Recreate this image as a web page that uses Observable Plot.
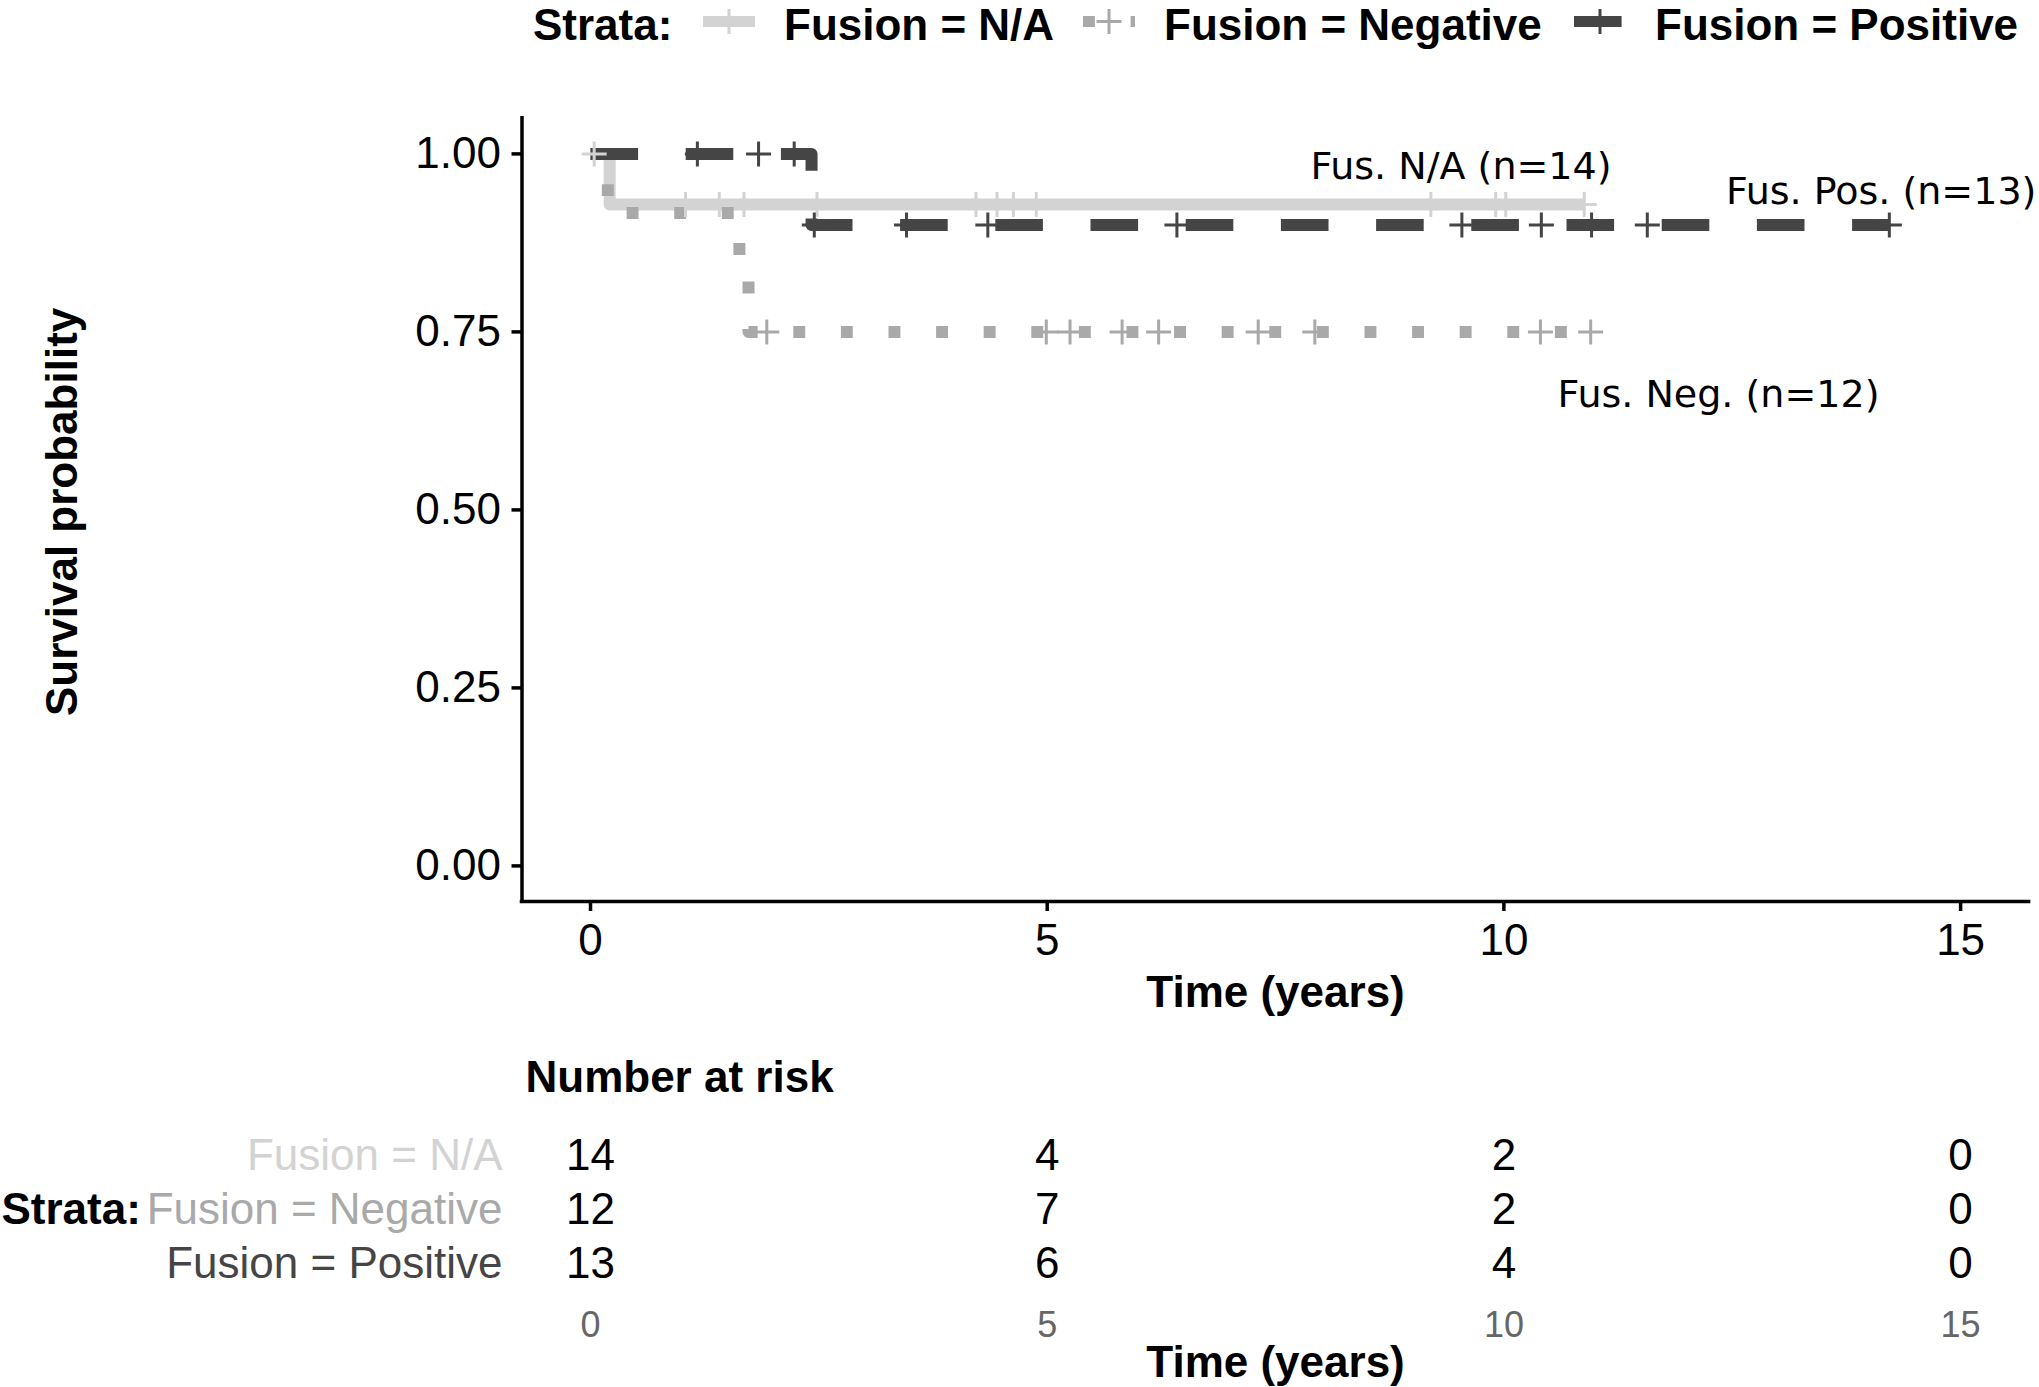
<!DOCTYPE html>
<html><head><meta charset="utf-8">
<script src="https://cdn.jsdelivr.net/npm/d3@7"></script>
<script src="https://cdn.jsdelivr.net/npm/@observablehq/plot@0.6"></script>
<style>
html,body{margin:0;padding:0;background:#fff;overflow:hidden;}
#chart svg{display:block;}
</style></head><body><div id="chart"></div>
<script>
// ---------- data ----------
const strata = ["Fusion = N/A", "Fusion = Negative", "Fusion = Positive"];
const strataColors = ["#d3d3d3", "#a9a9a9", "#454545"];
const strataDash = [null, "11.9,35.7", "47.6,47.6"];

const naStepTime = [0, 0.21, 10.88];
const naStepSurv = [1, 0.929, 0.929];
const naCensor = [0.04, 1.04, 1.41, 1.68, 2.48, 4.22, 4.45, 4.63, 4.88, 9.20, 9.91, 10.02, 10.88];

const negStepTime = [0, 0.19, 1.63, 1.73, 10.95];
const negStepSurv = [1, 0.917, 0.833, 0.75, 0.75];
const negCensor = [1.93, 4.99, 5.25, 5.82, 6.22, 7.31, 7.93, 10.40, 10.95];

const posStepTime = [0, 2.42, 14.22];
const posStepSurv = [1, 0.9, 0.9];
const posCensor = [1.17, 1.84, 2.23, 2.45, 3.46, 4.35, 6.42, 9.54, 10.41, 10.96, 11.57, 14.22];

const annoText = ["Fus. N/A (n=14)", "Fus. Neg. (n=12)", "Fus. Pos. (n=13)"];
const annoX = [9.53, 12.35, 14.13];
const annoY = [0.982, 0.661, 0.947];

const riskTimes = [0, 5, 10, 15];
const riskNA = [14, 4, 2, 0];
const riskNeg = [12, 7, 2, 0];
const riskPos = [13, 6, 4, 0];

const xTicks = [0, 5, 10, 15];
const yTicks = [0, 0.25, 0.5, 0.75, 1];
const xDomain = [-0.75, 15.75];
const yDomain = [-0.05, 1.05];

// ---------- helpers ----------
const FONT = "'Liberation Sans', Arial, Helvetica, sans-serif";
const steps = [
  {t: naStepTime, s: naStepSurv, c: naCensor},
  {t: negStepTime, s: negStepSurv, c: negCensor},
  {t: posStepTime, s: posStepSurv, c: posCensor}
];
function survAt(st, x) {
  let v = st.s[0];
  for (let i = 0; i < st.t.length; i++) if (st.t[i] <= x) v = st.s[i];
  return v;
}
const plusSymbol = {
  draw(ctx, size) {
    const h = Math.sqrt(size / Math.PI);
    ctx.moveTo(-h, 0); ctx.lineTo(h, 0);
    ctx.moveTo(0, -h); ctx.lineTo(0, h);
  }
};

const root = document.getElementById("chart");

// ---------- legend ----------
const LEG_H = 52;
const leg = d3.select(root).append("svg").attr("width", 2039).attr("height", LEG_H)
  .style("display", "block").style("font-family", FONT);
const LY = 21.5, TB = 40;
leg.append("text").attr("x", 533).attr("y", TB).attr("font-size", 44).attr("font-weight", "bold").text("Strata:");
const keyX = [703, 1083, 1574];
const labX = [784, 1164, 1655];
strata.forEach((s, i) => {
  const g = leg.append("g");
  g.append("line").attr("x1", keyX[i]).attr("x2", keyX[i] + 52).attr("y1", LY).attr("y2", LY)
    .attr("stroke", strataColors[i]).attr("stroke-width", 11)
    .attr("stroke-dasharray", strataDash[i]);
  const cx = keyX[i] + 26;
  g.append("path").attr("d", `M${cx - 12.5},${LY}H${cx + 12.5}M${cx},${LY - 12.5}V${LY + 12.5}`)
    .attr("stroke", strataColors[i]).attr("stroke-width", 3).attr("fill", "none");
  leg.append("text").attr("x", labX[i]).attr("y", TB).attr("font-size", 44).attr("font-weight", "bold").text(s);
});

// ---------- main plot ----------
const lineMarks = steps.map((st, i) => Plot.line(st.t.map((t, j) => ({t, s: st.s[j]})), {
  x: "t", y: "s", curve: "step-after", stroke: strataColors[i], strokeWidth: 12,
  strokeLinejoin: "round", strokeLinecap: "butt",
  strokeDasharray: strataDash[i] || undefined
}));
const censorMarks = steps.map((st, i) => Plot.dot(st.c.map(t => ({t, s: survAt(st, t)})), {
  x: "t", y: "s", symbol: plusSymbol, r: 12.5, stroke: strataColors[i], fill: "none", strokeWidth: 3
}));

const MAIN_H = 1387 - LEG_H - 347;
const main = Plot.plot({
  width: 2039, height: MAIN_H,
  marginTop: 117.8 - LEG_H, marginBottom: LEG_H + MAIN_H - 901, marginLeft: 521.5, marginRight: 10.4,
  x: {domain: xDomain},
  y: {domain: yDomain},
  style: {fontFamily: FONT, fontSize: "44px", color: "#000", background: "#fff", overflow: "visible"},
  marks: [
    ...lineMarks,
    ...censorMarks,
    Plot.text(annoText, {x: (d, i) => annoX[i], y: (d, i) => annoY[i], text: d => d,
      fontFamily: "'DejaVu Sans', sans-serif", fontSize: 38, fill: "#000"}),
    Plot.axisX({ticks: xTicks, tickFormat: d => String(d), tickSize: 10, tickPadding: 12,
      strokeWidth: 3.5, fontSize: 44, label: null}),
    Plot.axisY({ticks: yTicks, tickFormat: d3.format(".2f"), tickSize: 10, tickPadding: 11,
      strokeWidth: 3.5, fontSize: 44, label: null}),
    Plot.ruleX([xDomain[0]], {stroke: "#000", strokeWidth: 3.5, strokeLinecap: "square"}),
    Plot.ruleY([yDomain[0]], {stroke: "#000", strokeWidth: 3.5, strokeLinecap: "square"}),
    Plot.text(["Time (years)"], {text: d => d, frameAnchor: "bottom", lineAnchor: "middle", textAnchor: "middle",
      dy: 91, fontWeight: "bold", fontSize: 44}),
    Plot.text(["Survival probability"], {text: d => d, frameAnchor: "left", textAnchor: "middle", lineAnchor: "middle",
      rotate: -90, dx: -459.5, dy: 2, fontWeight: "bold", fontSize: 44})
  ]
});
root.appendChild(main);

// ---------- risk table ----------
const riskSeries = [riskNA, riskNeg, riskPos];
const riskRows = [];
strata.forEach((s, i) => riskTimes.forEach((t, j) => riskRows.push({stratum: s, t, n: riskSeries[i][j]})));

const table = Plot.plot({
  width: 2039, height: 347,
  marginTop: 115, marginBottom: 124, marginLeft: 521.5, marginRight: 10.4,
  x: {domain: xDomain, axis: null},
  y: {type: "point", domain: strata, padding: 0, axis: null},
  style: {fontFamily: FONT, fontSize: "44px", color: "#000", background: "#fff", overflow: "visible"},
  marks: [
    Plot.text(riskRows, {x: "t", y: "stratum", text: d => String(d.n), fontSize: 44, fill: "#000"}),
    ...strata.map((s, i) => Plot.text([s], {y: d => d, text: d => d, frameAnchor: "left", textAnchor: "end",
      lineAnchor: "middle", dx: -19.5, fill: strataColors[i], fontSize: 44})),
    Plot.text([strata[1]], {y: d => d, text: () => "Strata:", frameAnchor: "left", textAnchor: "start",
      lineAnchor: "middle", dx: -520.5, fontWeight: "bold", fontSize: 44, fill: "#000"}),
    Plot.text(["Number at risk"], {text: d => d, frameAnchor: "top-left", textAnchor: "start", lineAnchor: "middle",
      dx: 3.5, dy: -78, fontWeight: "bold", fontSize: 44}),
    Plot.axisX({ticks: xTicks, tickFormat: d => String(d), tickSize: 0, tickPadding: 48,
      fontSize: 36, fill: "#666", label: null}),
    Plot.text(["Time (years)"], {text: d => d, frameAnchor: "bottom", lineAnchor: "middle", textAnchor: "middle",
      dy: 99, fontWeight: "bold", fontSize: 44})
  ]
});
root.appendChild(table);
</script></body></html>
